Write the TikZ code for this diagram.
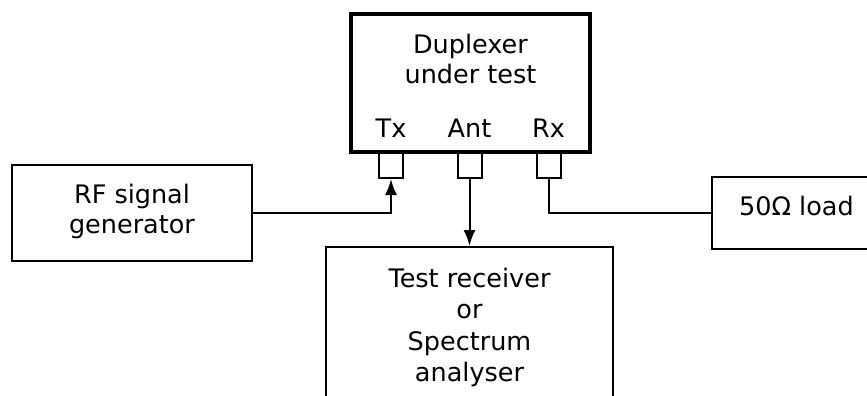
\documentclass[tikz,border=0pt]{standalone}
\usepackage{fontspec}
\setmainfont{DejaVu Sans}
\usetikzlibrary{arrows.meta}
\begin{document}
\begin{tikzpicture}[x=1pt,y=-1pt,
  box/.style={draw, line width=2pt, inner sep=0pt},
  dupbox/.style={draw, line width=4.8pt, inner sep=0pt},
  port/.style={draw, line width=2pt, minimum width=24pt, minimum height=25pt, inner sep=0pt},
  lbl/.style={inner sep=0pt, anchor=base, font=\fontsize{25.5}{31}\selectfont},
  conn/.style={line width=2pt},
  arr/.style={conn, -{Latex[length=16pt,width=12pt]}}]
\useasboundingbox (0,0) rectangle (867,396);
\clip (0,0) rectangle (867,396);
% duplexer
\node[dupbox, minimum width=239pt, minimum height=138pt] (dup) at (470.5,83) {};
\node[lbl] (dup1) at (470.5,53) {Duplexer};
\node[lbl] (dup2) at (470.5,83) {under test};
\node[lbl] (txl) at (391,137) {Tx};
\node[lbl] (antl) at (469.5,137) {Ant};
\node[lbl] (rxl) at (548.5,137) {Rx};
% ports
\node[port] (txp) at (391,165.5) {};
\node[port] (antp) at (469.5,165.5) {};
\node[port] (rxp) at (548.5,165.5) {};
% RF generator
\node[box, minimum width=240pt, minimum height=96pt] (rf) at (132,213) {};
\node[lbl] (rf1) at (132,203) {RF signal};
\node[lbl] (rf2) at (132,233) {generator};
% receiver
\node[box, minimum width=287pt, minimum height=166pt] (rcv) at (469.5,330) {};
\node[lbl] (rcv1) at (469.5,287) {Test receiver};
\node[lbl] (rcv2) at (469.5,318.5) {or};
\node[lbl] (rcv3) at (469.5,350) {Spectrum};
\node[lbl] (rcv4) at (469.5,381.5) {analyser};
% load
\node[box, minimum width=188pt, minimum height=72pt] (load) at (806,213) {};
\node[lbl] (load1) at (796.5,215) {50Ω load};
% connectors
\draw[arr] (rf.east) -| (txp.south);
\draw[arr] (antp.south) -- (rcv.north);
\draw[conn] (rxp.south) |- (load.west);
\end{tikzpicture}
\end{document}
